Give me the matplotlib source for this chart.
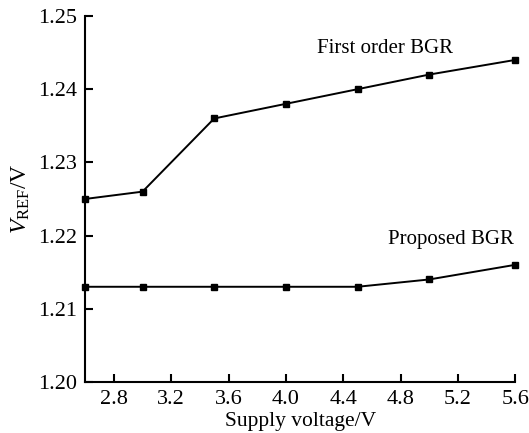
import matplotlib
matplotlib.use("Agg")
from matplotlib import pyplot as plt

plt.rcParams['font.family'] = ['Liberation Serif', 'DejaVu Serif']
plt.rcParams['mathtext.fontset'] = 'custom'
plt.rcParams['mathtext.rm'] = 'Liberation Serif'
plt.rcParams['mathtext.it'] = 'Liberation Serif:italic'

voltage = [2.6, 3.0, 3.5, 4.0, 4.5, 5.0, 5.6]
first_order = [1.225, 1.226, 1.236, 1.238, 1.240, 1.242, 1.244]
proposed = [1.213, 1.213, 1.213, 1.213, 1.213, 1.214, 1.216]
xticks = [2.8, 3.2, 3.6, 4.0, 4.4, 4.8, 5.2, 5.6]
yticks = [1.20, 1.21, 1.22, 1.23, 1.24, 1.25]

fig = plt.figure(figsize=(5.29, 4.33), dpi=100)
ax = fig.add_axes([0.161, 0.118, 0.813, 0.845])

ax.plot(voltage, first_order, color='black', lw=1.4, marker='s', ms=4.5, clip_on=False)
ax.plot(voltage, proposed, color='black', lw=1.4, marker='s', ms=4.5, clip_on=False)

ax.text(4.22, 1.2456, 'First order BGR', fontsize=15, va='center')
ax.text(4.71, 1.2194, 'Proposed BGR', fontsize=15, va='center')

ax.set_xlim(2.6, 5.6)
ax.set_ylim(1.20, 1.25)
ax.set_xticks(xticks)
ax.set_xticklabels(['%.1f' % v for v in xticks])
ax.set_yticks(yticks)
ax.set_yticklabels(['%.2f' % v for v in yticks])
ax.tick_params(direction='in', length=6, width=1.5, labelsize=16, pad=6)

for s in ['top', 'right']:
    ax.spines[s].set_visible(False)
for s in ['left', 'bottom']:
    ax.spines[s].set_linewidth(1.5)

ax.set_xlabel('Supply voltage/V', fontsize=15.5, labelpad=2)
ax.set_ylabel(r'$\mathit{V}_{\mathrm{REF}}$/V', fontsize=17, labelpad=4)

fig.savefig('out.png', dpi=100)
